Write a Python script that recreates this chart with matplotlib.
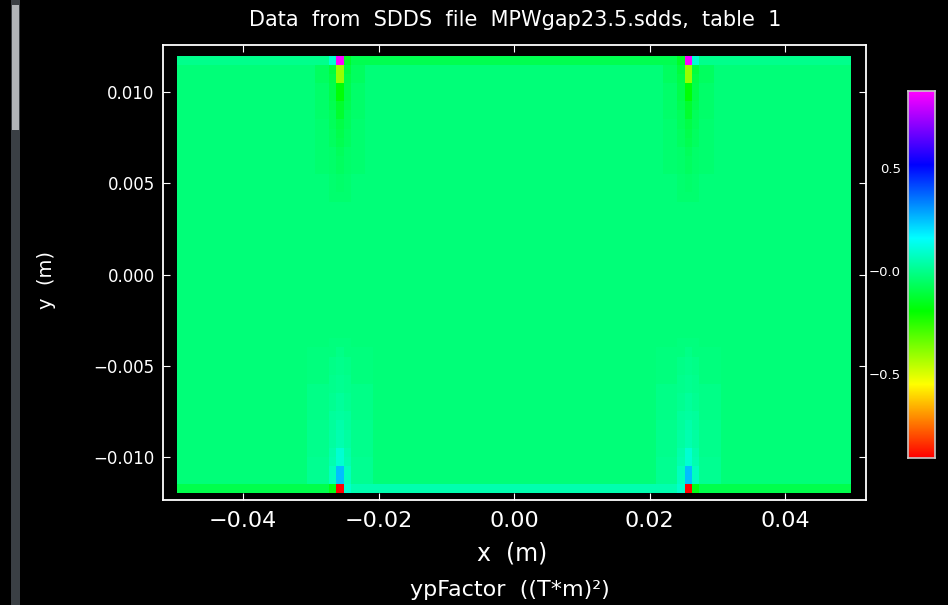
import numpy as np
import matplotlib.pyplot as plt
from matplotlib.colors import LinearSegmentedColormap
from matplotlib.patches import Rectangle

# map grid (cells)
n_cols, n_rows = 93, 48
x_step, y_step = 0.00107, 0.0005
hot_cols = [22, 70]          # the two pole columns, x = -/+0.0257 m
background = -0.03

# column values going down from the top row (pole column, +-1, +-2..3)
top_core = [0.87, -0.40, -0.40, -0.19, -0.19, -0.13, -0.13, -0.10, -0.09,
            -0.08, -0.07, -0.06, -0.06, -0.05, -0.05, -0.04]
top_near = [-0.11, -0.10, -0.09, -0.09, -0.08, -0.07, -0.07, -0.06,
            -0.06, -0.05, -0.05, -0.05, -0.04, -0.04, -0.04]
top_far = [-0.06, -0.06, -0.05, -0.05, -0.05, -0.05, -0.04, -0.04,
           -0.04, -0.04, -0.04, -0.04]
# column values going up from the bottom row
bottom_core = [-0.91, 0.25, 0.25, 0.10, 0.10, 0.05, 0.05, 0.04, 0.03,
               0.02, 0.02, 0.01, 0.01, 0.00, 0.00, -0.01, -0.02]
bottom_near = [0.07, 0.07, 0.05, 0.04, 0.03, 0.03, 0.02, 0.02, 0.01,
               0.01, 0.00, 0.00, -0.01, -0.01, -0.02, -0.02]
bottom_far = [0.01, 0.01, 0.01, 0.00, 0.00, 0.00, 0.00, -0.01, -0.01,
              -0.01, -0.01, -0.02, -0.02, -0.02, -0.02]

# edge rows: outside the poles / next to pole outside / next to pole inside / between poles
top_row = [0.00, 0.10, -0.14, -0.08]
bottom_row = [-0.09, -0.17, 0.09, 0.05]

vmin, vmax = -0.908, 0.874
cbar_ticks = [0.5, 0.0, -0.5]
cbar_labels = ['0.5', '\u22120.0', '\u22120.5']
x_ticks = [-0.04, -0.02, 0.00, 0.02, 0.04]
y_ticks = [-0.010, -0.005, 0.000, 0.005, 0.010]

# ---- build the cell array
z = np.full((n_rows, n_cols), background)
for hc in hot_cols:
    top = n_rows - 1
    for j, v in enumerate(top_core):
        z[top - j, hc] = v
    for j, v in enumerate(top_near):
        z[top - 1 - j, hc - 1] = v
        z[top - 1 - j, hc + 1] = v
    for j, v in enumerate(top_far):
        for d in (2, 3):
            z[top - 1 - j, hc - d] = v
            z[top - 1 - j, hc + d] = v
    for j, v in enumerate(bottom_core):
        z[j, hc] = v
    for j, v in enumerate(bottom_near):
        z[1 + j, hc - 1] = v
        z[1 + j, hc + 1] = v
    for j, v in enumerate(bottom_far):
        for d in (2, 3, 4):
            z[1 + j, hc - d] = v
            z[1 + j, hc + d] = v

left, right = hot_cols
z[-1, :left] = top_row[0]
z[-1, right + 1:] = top_row[0]
z[-1, left - 1] = top_row[1]
z[-1, right + 1] = top_row[1]
z[-1, left + 1] = top_row[2]
z[-1, right - 1] = top_row[2]
z[-1, left + 2:right - 1] = top_row[3]
z[0, :left] = bottom_row[0]
z[0, right + 1:] = bottom_row[0]
z[0, left - 1] = bottom_row[1]
z[0, right + 1] = bottom_row[1]
z[0, left + 1] = bottom_row[2]
z[0, right - 1] = bottom_row[2]
z[0, left + 2:right - 1] = bottom_row[3]

x_edges = (np.arange(n_cols + 1) - n_cols / 2) * x_step
y_edges = (np.arange(n_rows + 1) - n_rows / 2) * y_step

cmap = LinearSegmentedColormap.from_list(
    'sdds', ['#ff0000', '#ffff00', '#00ff00', '#00ffff', '#0000ff', '#ff00ff'])

plt.rcParams['font.family'] = ['DejaVu Sans']
fig = plt.figure(figsize=(9.48, 6.05), dpi=100)
fig.patch.set_facecolor('black')

ax = fig.add_axes([163 / 948, 105 / 605, 703 / 948, 455 / 605])
ax.set_facecolor('black')
ax.pcolormesh(x_edges, y_edges, z, cmap=cmap, vmin=vmin, vmax=vmax)
ax.set_xlim(-0.0518, 0.0519)
ax.set_ylim(-0.01236, 0.01258)
for s in ax.spines.values():
    s.set_color('white')
    s.set_linewidth(1.3)
ax.set_xticks(x_ticks)
ax.set_xticklabels([('%.2f' % v).replace('-', '\u2212') for v in x_ticks])
ax.set_yticks(y_ticks)
ax.set_yticklabels([('%.3f' % v).replace('-', '\u2212') for v in y_ticks])
ax.tick_params(colors='white', direction='in', top=True, right=True, length=5)
ax.tick_params(axis='x', labelsize=16, pad=8)
ax.tick_params(axis='y', labelsize=12, pad=6)

fig.text(515 / 948, 1 - 20 / 605, 'Data  from  SDDS  file  MPWgap23.5.sdds,  table  1',
         color='white', fontsize=15, ha='center', va='center')
fig.text(512 / 948, 1 - 553 / 605, 'x  (m)', color='white', fontsize=17,
         ha='center', va='center')
fig.text(510 / 948, 1 - 590 / 605, 'ypFactor  ((T*m)\u00b2)', color='white',
         fontsize=16, ha='center', va='center')
fig.text(46 / 948, 1 - 280 / 605, 'y  (m)', color='white', fontsize=14,
         ha='center', va='center', rotation=90)

# colour bar
cax = fig.add_axes([908 / 948, 147 / 605, 27 / 948, 367 / 605])
grad = np.linspace(vmin, vmax, 256).reshape(-1, 1)
cax.imshow(grad, aspect='auto', origin='lower', cmap=cmap, vmin=vmin, vmax=vmax,
           extent=[0, 1, vmin, vmax])
cax.set_xticks([])
cax.set_yticks(cbar_ticks)
cax.set_yticklabels(cbar_labels)
cax.tick_params(colors='white', length=0, labelsize=9.5, pad=5)
for s in cax.spines.values():
    s.set_color('#c8c8c8')
    s.set_linewidth(1.2)

# window edge at the far left of the screenshot
fig.patches.append(Rectangle((11 / 948, 0), 9 / 948, 1, transform=fig.transFigure,
                             facecolor='#3a3f44', edgecolor='none'))
fig.patches.append(Rectangle((12 / 948, 1 - 130 / 605), 7 / 948, 125 / 605,
                             transform=fig.transFigure, facecolor='#b0b4b8',
                             edgecolor='none'))

fig.savefig('out.png', dpi=100, facecolor='black')
